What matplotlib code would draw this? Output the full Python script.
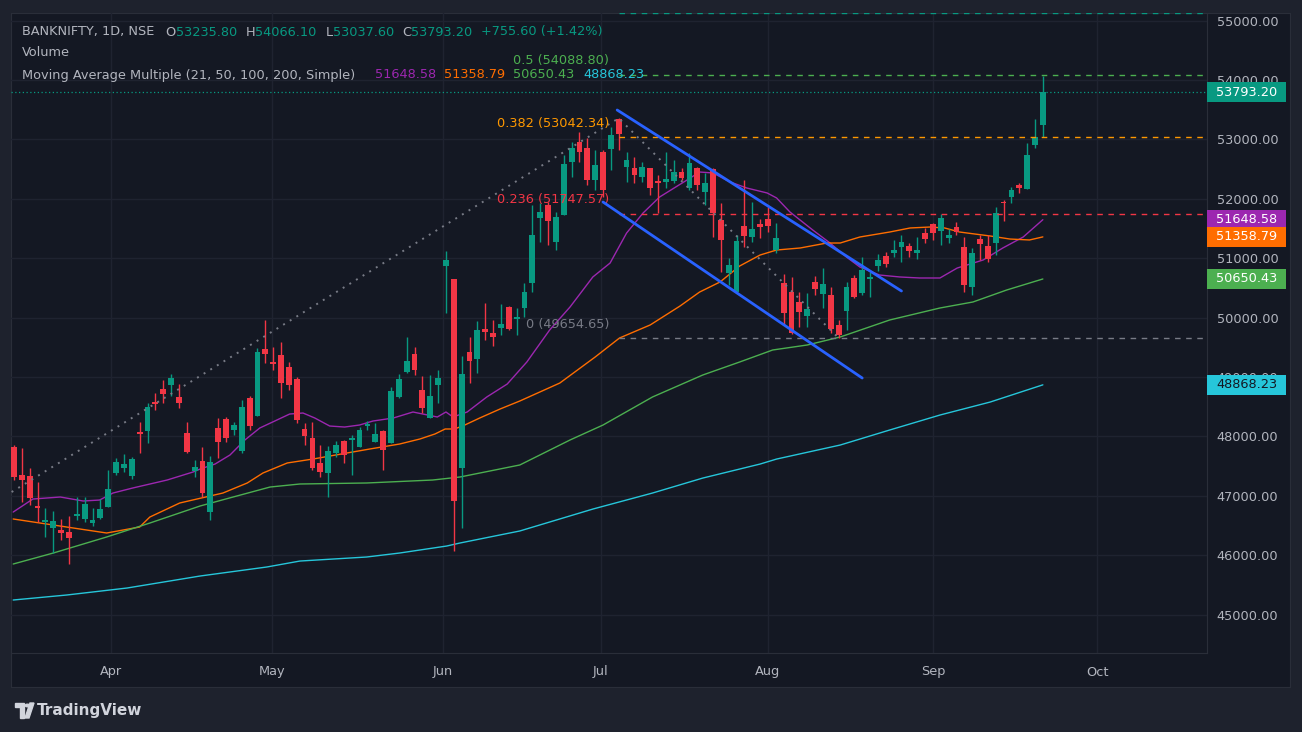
"""BANKNIFTY daily candles with SMA ribbon and fib / channel drawings (TradingView dark look)."""

import matplotlib
matplotlib.use('Agg')
import matplotlib.pyplot as plt
import matplotlib.transforms as mtransforms
from matplotlib.patches import Rectangle, Polygon, Circle

# ---- data (bar index = trading day, 0 = first visible bar) ----
opens = [47820, 47350, 47334, 46828, 46559, 46458, 46424, 46391, 46660, 46610,
         46542, 46627, 46812, 47384, 47468, 47334, 48074, 48091, 48579, 48798,
         48866, 48664, 48057, 47418, 47586, 46727, 48142, 48293, 48108, 47754,
         48647, 48344, 49472, 49253, 49371, 49169, 48967, 48125, 47973, 47552,
         47384, 47721, 47923, 47940, 47822, 48175, 47906, 48091, 47889, 48664,
         49084, 49387, 48781, 48310, 48866, 50869, 50650, 47468, 49421, 49303,
         49808, 49741, 49825, 50179, 49977, 50162, 50583, 51677, 51896, 51273,
         51727, 52620, 52956, 52855, 52317, 52788, 52839, 53344, 52536, 52519,
         52367, 52519, 52300, 52283, 52300, 52451, 52182, 52519, 52115, 52502,
         51643, 50751, 50431, 51542, 51357, 51576, 51660, 51138, 50583, 50431,
         50263, 50027, 50600, 50398, 50381, 49876, 50111, 50667, 50414, 50650,
         50869, 51037, 51088, 51189, 51206, 51088, 51424, 51576, 51458, 51340,
         51525, 51189, 50515, 51323, 51206, 51256, 51946, 52030, 52233, 52165,
         52906, 53235.8]
highs = [47855, 47805, 47468, 47233, 46795, 46744, 46610, 46660, 46980, 46980,
         46795, 46946, 47435, 47637, 47704, 47653, 48243, 48563, 48731, 48950,
         49051, 48882, 48243, 47603, 47822, 47670, 48310, 48327, 48243, 48613,
         48680, 49488, 49960, 49505, 49589, 49253, 49000, 48226, 48243, 47855,
         47839, 47923, 47940, 48024, 48158, 48259, 48226, 48108, 48832, 49051,
         49674, 49505, 49017, 49034, 49118, 51121, 50650, 49354, 49674, 49943,
         50246, 49960, 50229, 50196, 50162, 50583, 51896, 51929, 51946, 51778,
         52738, 52956, 53125, 53024, 52822, 52822, 53209, 53360, 52788, 52704,
         52620, 52519, 52401, 52788, 52653, 52519, 52771, 52536, 52435, 52519,
         51929, 51004, 51391, 52317, 51946, 51660, 51862, 51593, 50734, 50684,
         50431, 50414, 50701, 50835, 50515, 49960, 50600, 50717, 51020, 50768,
         51071, 51105, 51307, 51391, 51256, 51357, 51509, 51593, 51744, 51492,
         51610, 51357, 51172, 51391, 51391, 51862, 51980, 52199, 52266, 52940,
         53344, 54066.1]
lows = [47265, 46896, 46845, 46559, 46307, 46037, 46256, 45852, 46593, 46559,
        46492, 46610, 46812, 47350, 47401, 47283, 47721, 47889, 48445, 48563,
        48680, 48478, 47721, 47317, 46980, 46593, 47637, 47906, 48024, 47721,
        48108, 48344, 49236, 49118, 48647, 48781, 48226, 47855, 47435, 47317,
        46980, 47653, 47552, 47350, 47822, 48108, 47906, 47435, 47889, 48647,
        49068, 49034, 48394, 48310, 48563, 50078, 46071, 46458, 48899, 49068,
        49623, 49522, 49707, 49791, 49707, 50010, 50431, 51273, 51222, 51138,
        51727, 52367, 52620, 52233, 52148, 52031, 52485, 52822, 52283, 52266,
        52283, 52064, 51761, 52182, 52266, 52317, 52148, 52148, 51896, 51357,
        50768, 50549, 50431, 51189, 51273, 51340, 51441, 51088, 49876, 49724,
        49842, 49842, 50381, 50162, 49741, 49655, 49791, 50330, 50381, 50347,
        50785, 50852, 51020, 50936, 51020, 50987, 51256, 51307, 51222, 51256,
        51391, 50431, 50381, 50970, 50936, 51054, 51626, 51929, 52098, 52165,
        52855, 53037.6]
closes = [47315, 47266, 46963, 46795, 46593, 46576, 46374, 46290, 46694, 46862,
          46593, 46778, 47115, 47569, 47536, 47620, 48041, 48495, 48546, 48714,
          48983, 48563, 47738, 47485, 47047, 47569, 47906, 47973, 48192, 48495,
          48175, 49421, 49387, 49219, 48899, 48866, 48276, 48007, 47468, 47401,
          47754, 47855, 47687, 47973, 48108, 48209, 48041, 47771, 48765, 48967,
          49270, 49118, 48478, 48680, 48983, 50970, 46913, 49051, 49270, 49791,
          49758, 49674, 49892, 49808, 50010, 50431, 51391, 51778, 51626, 51694,
          52586, 52855, 52788, 52317, 52569, 52148, 53074, 53091, 52653, 52401,
          52536, 52182, 52266, 52334, 52451, 52350, 52603, 52233, 52266, 51761,
          51307, 50886, 51290, 51374, 51492, 51525, 51542, 51340, 50078, 49741,
          50094, 50145, 50482, 50566, 49808, 49707, 50515, 50347, 50802, 50684,
          50970, 50903, 51138, 51273, 51121, 51138, 51323, 51424, 51677, 51391,
          51441, 50549, 51088, 51239, 50987, 51761, 51929, 52148, 52182, 52738,
          53037.6, 53793.2]

# simple moving averages, sampled off the chart (bar index, price)
ma21_x = [-0.1, 2.4, 5.9, 8.8, 10.9, 12.6, 15.1, 19.5, 22.8, 23.7, 25.6, 27.5, 29.4,
          31.3, 33.2, 35.1, 36.8, 38.3, 40.2, 42.1, 44.0, 45.7, 48.3, 50.8, 53.9,
          55.0, 55.9, 57.7, 60.2, 62.8, 65.3, 68.2, 70.8, 73.7, 75.9, 78.0, 80.1,
          82.2, 85.7, 87.3, 89.0, 91.2, 93.3, 95.9, 97.1, 98.8, 101.7, 103.9, 106.0,
          107.7, 110.2, 112.8, 115.3, 117.9, 120.1, 123.4, 125.9, 128.5, 131.0]
ma21_y = [46727, 46946, 46980, 46913, 46929, 47047, 47131, 47266, 47401, 47451, 47535,
          47687, 47940, 48142, 48259, 48377, 48394, 48310, 48175, 48158, 48192, 48259,
          48310, 48411, 48327, 48411, 48327, 48411, 48664, 48882, 49253, 49791, 50179,
          50684, 50919, 51424, 51761, 52030, 52317, 52451, 52435, 52283, 52182, 52098,
          52014, 51778, 51475, 51256, 51020, 50852, 50717, 50684, 50667, 50667, 50835,
          50970, 51172, 51357, 51648.58]
ma50_x = [-0.1, 6.7, 11.8, 16.0, 17.3, 19.2, 21.1, 26.6, 29.7, 31.7, 34.8, 38.1, 42.4,
          45.3, 49.1, 51.7, 53.6, 54.9, 56.1, 57.4, 59.3, 61.9, 64.4, 69.5, 74.0, 77.1,
          81.0, 84.8, 87.3, 89.9, 92.4, 95.0, 97.1, 100.1, 103.5, 105.2, 107.7, 111.5,
          114.1, 116.6, 118.5, 120.4, 122.3, 124.3, 126.8, 129.3, 131.0]
ma50_y = [46610, 46475, 46374, 46475, 46643, 46761, 46879, 47047, 47216, 47384, 47553,
          47620, 47721, 47788, 47872, 47957, 48041, 48125, 48125, 48192, 48310, 48462,
          48596, 48899, 49337, 49657, 49876, 50195, 50431, 50600, 50869, 51054, 51138,
          51172, 51256, 51256, 51357, 51441, 51509, 51525, 51509, 51441, 51408, 51374,
          51323, 51307, 51358.79]
ma100_x = [-0.1, 5.0, 11.8, 17.3, 23.7, 27.9, 32.6, 36.4, 44.9, 53.3, 56.8, 64.4, 70.8,
           75.0, 81.3, 87.7, 92.4, 96.6, 101.0, 105.2, 111.5, 117.9, 122.1, 126.4, 131.0]
ma100_y = [45852, 46037, 46307, 46542, 46829, 46980, 47148, 47199, 47216, 47266, 47317,
           47519, 47940, 48192, 48664, 49034, 49253, 49455, 49539, 49674, 49960, 50162,
           50263, 50465, 50650.43]
ma200_x = [-0.1, 6.7, 14.4, 23.7, 32.2, 36.4, 44.9, 49.1, 55.1, 56.8, 64.4, 73.7, 81.3,
           87.7, 95.0, 97.1, 105.2, 111.5, 117.9, 124.3, 131.0]
ma200_y = [45246, 45330, 45448, 45650, 45802, 45902, 45970, 46037, 46155, 46206, 46408,
           46777, 47047, 47299, 47535, 47619, 47855, 48108, 48360, 48579, 48868.23]

ma_labels = ['51648.58', '51358.79', '50650.43', '48868.23']
ma_last = [51648.58, 51358.79, 50650.43, 48868.23]
last_price = 53793.20

# trend-based fib: anchor points and levels (0.618 label sits above the visible area)
fib_anchor_x = [-0.3, 77.0, 105.0]
fib_anchor_y = [47064, 53357, 49654.65]
fib_ratios = ['0', '0.236', '0.382', '0.5', '0.618']
fib_levels = [49654.65, 51747.57, 53042.34, 54088.80, 55135.20]
fib_show_label = [True, True, True, True, False]

# falling channel drawn by hand
chan_upper_x = [76.8, 113.0]
chan_upper_y = [53495, 50448]
chan_lower_x = [75.0, 108.0]
chan_lower_y = [51946, 48983]

month_names = ['Apr', 'May', 'Jun', 'Jul', 'Aug', 'Sep', 'Oct']
month_pos = [12.35, 32.9, 54.6, 74.7, 96.0, 117.0, 137.9]
price_ticks = list(range(45000, 55001, 1000))

# ---- style ----
BG = '#141823'
FRAME = '#1e222d'
GRID = '#1f2330'
LINE = '#2a2e39'
TXT = '#b2b5be'
UP = '#089981'
DOWN = '#f23645'
MA_COLORS = ['#9c27b0', '#ff6d00', '#4caf50', '#26c6da']
FIB_COLORS = ['#787b86', '#f23645', '#ff9800', '#4caf50', '#089981']

W, H = 1302, 732
plt.rcParams['font.family'] = ['DejaVu Sans']

fig = plt.figure(figsize=(W / 100, H / 100), dpi=100, facecolor=FRAME)


def fx(px):
  return px / W


def fy(py):
  return 1 - py / H


# panel behind chart + both axes strips
panel = fig.add_axes([fx(11), fy(687), fx(1290) - fx(11), fy(13) - fy(687)])
panel.set_facecolor(BG)
panel.set_xticks([])
panel.set_yticks([])
for sp in panel.spines.values():
  sp.set_color(LINE)

ax = fig.add_axes([fx(11), fy(653), fx(1207) - fx(11), fy(13) - fy(653)])
ax.set_facecolor('none')
x_left, x_right = -0.38, 151.9
ax.set_xlim(x_left, x_right)
ax.set_ylim(44354, 55128)

for name, sp in ax.spines.items():
  sp.set_visible(name in ('right', 'bottom'))
  sp.set_color(LINE)

ax.yaxis.tick_right()
ax.set_yticks(price_ticks)
ax.set_yticklabels([f'{v:.2f}' for v in price_ticks], color=TXT, fontsize=9.3)
ax.set_xticks(month_pos)
ax.set_xticklabels(month_names, color=TXT, fontsize=9.3)
ax.tick_params(axis='y', length=0, pad=7)
ax.tick_params(axis='x', length=0, pad=9)
ax.grid(True, color=GRID, lw=1)
ax.set_axisbelow(True)

# moving averages
for xs, ys, c in zip([ma21_x, ma50_x, ma100_x, ma200_x],
                     [ma21_y, ma50_y, ma100_y, ma200_y], MA_COLORS):
  ax.plot(xs, ys, color=c, lw=1.0, zorder=2, solid_capstyle='round')

# candles
idx = list(range(len(opens)))
colors = [UP if c >= o else DOWN for o, c in zip(opens, closes)]
ax.vlines(idx, lows, highs, colors=colors, lw=1.0, zorder=3)
bottoms = [min(o, c) for o, c in zip(opens, closes)]
heights = [max(abs(c - o), 18) for o, c in zip(opens, closes)]
ax.bar(idx, heights, bottom=bottoms, width=0.74, color=colors, zorder=4, lw=0)

# fib anchor dotted lines
ax.plot(fib_anchor_x, fib_anchor_y, color='#787b86', lw=1.4, ls=(0, (1, 3)), zorder=5)

# fib levels + labels
for r, lv, c, show in zip(fib_ratios, fib_levels, FIB_COLORS, fib_show_label):
  ax.hlines(lv, fib_anchor_x[1], x_right, colors=c, lw=1, linestyles=(0, (4, 4)), zorder=5)
  if show:
    ax.annotate(f'{r} ({lv:.2f})', (fib_anchor_x[1], lv), xytext=(-7, 10),
                textcoords='offset points', ha='right', va='center',
                color=c, fontsize=9.3, zorder=6)

# channel
ax.plot(chan_upper_x, chan_upper_y, color='#2962ff', lw=2, zorder=6, solid_capstyle='round')
ax.plot(chan_lower_x, chan_lower_y, color='#2962ff', lw=2, zorder=6, solid_capstyle='round')

# last price line
ax.axhline(last_price, color=UP, lw=0.9, ls=(0, (1, 2)), zorder=5)

# price tags on the right scale
blend = mtransforms.blended_transform_factory(ax.transAxes, ax.transData)
tag_w = 79 / 1196
tag_h = 20 * (55128 - 44354) / 640
tag_vals = [last_price] + ma_last
tag_txt = [f'{last_price:.2f}'] + ma_labels
tag_bg = [UP] + MA_COLORS
tag_fg = ['white', 'white', 'white', 'white', BG]
for v, t, bg, fg in zip(tag_vals, tag_txt, tag_bg, tag_fg):
  ax.add_patch(Rectangle((1.0, v - tag_h / 2), tag_w, tag_h, transform=blend,
                         facecolor=bg, edgecolor='none', clip_on=False, zorder=10))
  ax.text(1.0 + tag_w / 2, v, t, transform=blend, ha='center', va='center',
          color=fg, fontsize=9.3, zorder=11, clip_on=False)

# legend / header text
y1, y2, y3 = fy(32), fy(53), fy(75)
head = [('BANKNIFTY, 1D, NSE', 22, TXT), ('O', 165, TXT), ('53235.80', 176, UP),
        ('H', 246, TXT), ('54066.10', 255, UP), ('L', 326, TXT), ('53037.60', 333, UP),
        ('C', 402, TXT), ('53793.20', 411, UP), ('+755.60 (+1.42%)', 481, UP)]
for t, px, c in head:
  fig.text(fx(px), y1, t, color=c, fontsize=9.3, va='center', ha='left')
fig.text(fx(22), y2, 'Volume', color=TXT, fontsize=9.3, va='center')
fig.text(fx(22), y3, 'Moving Average Multiple (21, 50, 100, 200, Simple)',
         color=TXT, fontsize=9.3, va='center')
for t, px, c in zip(ma_labels, [375, 444, 513, 583], MA_COLORS):
  fig.text(fx(px), y3, t, color=c, fontsize=9.3, va='center')

# TradingView logo
logo_col = '#d1d4dc'
fig.patches.append(Polygon([(fx(15), fy(703)), (fx(24), fy(703)), (fx(24), fy(718)),
                            (fx(20), fy(718)), (fx(20), fy(707)), (fx(15), fy(707))],
                           closed=True, transform=fig.transFigure, color=logo_col))
fig.patches.append(Circle((fx(27.5), fy(705.5)), 2.3 / W, transform=fig.transFigure,
                          color=logo_col))
fig.patches.append(Polygon([(fx(30), fy(703)), (fx(34), fy(703)), (fx(29), fy(718)),
                            (fx(25), fy(718))], closed=True, transform=fig.transFigure,
                           color=logo_col))
fig.text(fx(37), fy(711), 'TradingView', color=logo_col, fontsize=11,
         va='center', ha='left', fontweight='semibold')

fig.savefig('out.png', dpi=100, facecolor=FRAME)
